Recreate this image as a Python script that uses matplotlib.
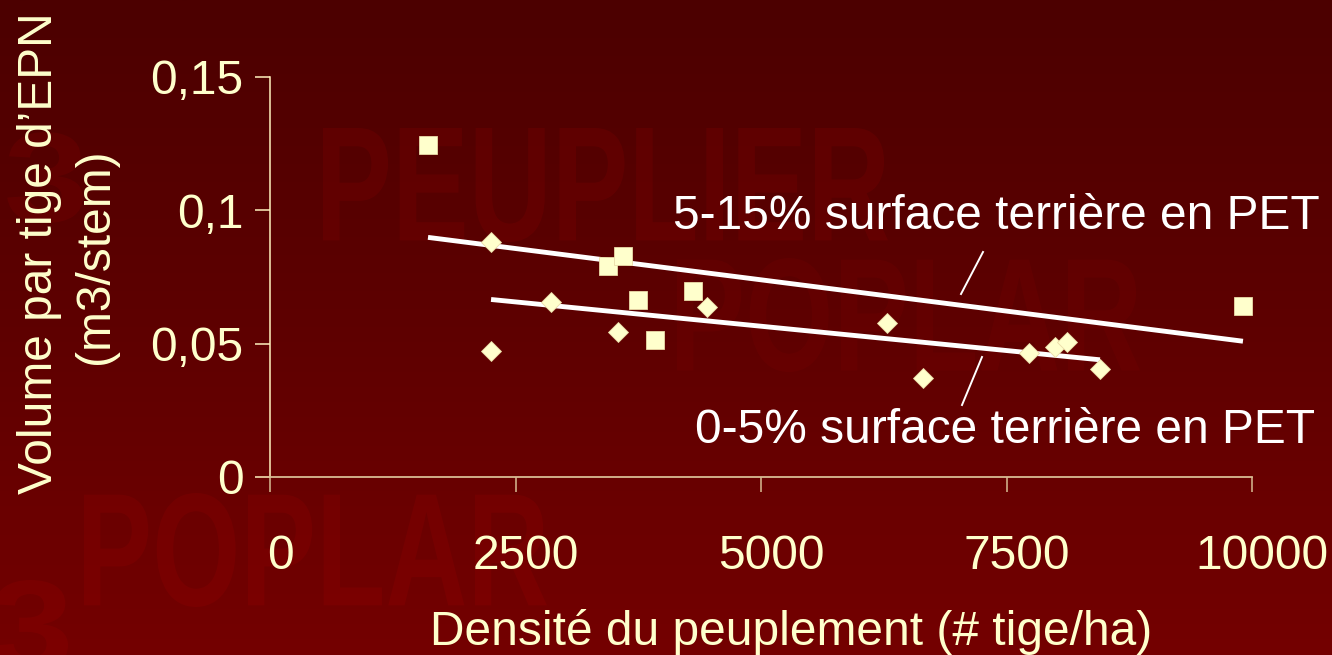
import numpy as np
import matplotlib
matplotlib.use("Agg")
import matplotlib.pyplot as plt
import matplotlib.transforms as mtransforms
from matplotlib.textpath import TextPath
from matplotlib.patches import PathPatch
from matplotlib.lines import Line2D
from matplotlib.font_manager import FontProperties
from matplotlib.colors import LinearSegmentedColormap

plt.rcParams['font.family'] = ['Liberation Sans', 'DejaVu Sans']

# 5-15% surface terriere en PET (squares)
dens_hi = [1609, 3442, 3595, 3747, 3921, 4308, 9908]
vol_hi = [0.1244, 0.0793, 0.0827, 0.0665, 0.0515, 0.0699, 0.0643]

# 0-5% surface terriere en PET (diamonds)
dens_lo = [2251, 2251, 2862, 3544, 4450, 6283, 6650, 7729, 7994, 8116, 8452]
vol_lo = [0.0880, 0.0474, 0.0658, 0.0545, 0.0639, 0.0579, 0.0372,
          0.0466, 0.0489, 0.0508, 0.0406]

lab_hi = "5-15% surface terrière en PET"
lab_lo = "0-5% surface terrière en PET"

xticks = [0, 2500, 5000, 7500, 10000]
yticks = [0, 0.05, 0.1, 0.15]
ytick_labels = ["0", "0,05", "0,1", "0,15"]

xlabel = "Densité du peuplement (# tige/ha)"
ylabel1 = "Volume par tige d\u2019EPN"
ylabel2 = "(m3/stem)"

W, H = 1332, 655
cream = "#FFFFCC"
tan = "#D8BC94"
fs = 34.5

fig = plt.figure(figsize=(W / 100, H / 100), dpi=100)
# pixel coords, origin top-left
pix = mtransforms.Affine2D().scale(1.0 / W, -1.0 / H).translate(0, 1) + fig.transFigure

# background gradient + watermarks
bg = fig.add_axes([0, 0, 1, 1], zorder=-1)
grad = np.linspace(0, 1, 256).reshape(-1, 1)
cmap_bg = LinearSegmentedColormap.from_list("bg", ["#4C0000", "#5E0000", "#740000"])
bg.imshow(grad, cmap=cmap_bg, aspect="auto", extent=(0, W, H, 0))
bg.set_xlim(0, W)
bg.set_ylim(H, 0)
bg.axis("off")

wm_font = FontProperties(family="Liberation Sans", weight="bold")


def watermark(s, x0, y0, w, h, a=0.07):
    tp = TextPath((0, 0), s, size=100, prop=wm_font)
    bb = tp.get_extents()
    tr = mtransforms.Affine2D().translate(-bb.x0, -bb.y1) \
        .scale(w / bb.width, -h / bb.height).translate(x0, y0)
    bg.add_patch(PathPatch(tr.transform_path(tp), fc=(1, 0, 0, a), ec="none"))


watermark("PEUPLIER", 323, 128, 565, 114)
watermark("POPLAR", 677, 258, 463, 114, 0.045)
watermark("POPLAR", 84, 493, 463, 114)
watermark("03", -75, 132, 158, 91)
watermark("03", -90, 580, 158, 91)

# main axes
ax = fig.add_axes([270 / W, 1 - 477 / H, (1252 - 270) / W, (477 - 77) / H])
ax.patch.set_facecolor("none")

ax.plot(dens_hi, vol_hi, "s", ms=12.4, color=cream, mec="#EADBA8", mew=0.6, clip_on=False, zorder=3)
ax.plot(dens_lo, vol_lo, "D", ms=10.6, color=cream, mec="#EADBA8", mew=0.6, clip_on=False, zorder=3)

for xs, ys in [(dens_hi, vol_hi), (dens_lo, vol_lo)]:
    p = np.polyfit(xs, ys, 1)
    xx = np.array([min(xs), max(xs)])
    ax.plot(xx, np.polyval(p, xx), color="white", lw=3.5, solid_capstyle="butt", zorder=2)

ax.set_xlim(0, 10000)
ax.set_ylim(0, 0.15)
ax.set_xticks(xticks)
ax.set_xticklabels([str(v) for v in xticks])
ax.set_yticks(yticks)
ax.set_yticklabels(ytick_labels)

for s in ["top", "right"]:
    ax.spines[s].set_visible(False)
ax.spines["left"].set_color("#FFF2BE")
ax.spines["left"].set_linewidth(1.1)
ax.spines["bottom"].set_color(tan)
ax.spines["bottom"].set_linewidth(1.3)

ax.tick_params(axis="x", direction="out", length=11, width=1.1, color=tan,
               labelsize=fs, labelcolor=cream, pad=30)
ax.tick_params(axis="y", direction="out", length=11, width=1.1, color="#FFF2BE",
               labelsize=fs, labelcolor=cream, pad=8)

shift = mtransforms.ScaledTranslation(10 / 100, 0, fig.dpi_scale_trans)
for lbl in ax.get_xticklabels():
    lbl.set_transform(lbl.get_transform() + shift)

# axis titles
fig.text(52, 253, ylabel1, rotation=90, rotation_mode="anchor", ha="center",
         va="baseline", fontsize=fs, color=cream, transform=pix)
fig.text(108, 256, ylabel2, rotation=90, rotation_mode="anchor", ha="center",
         va="baseline", fontsize=fs, color=cream, transform=pix)
fig.text(430, 645, xlabel, ha="left", va="baseline", fontsize=fs, color=cream, transform=pix)

# series labels with leader lines
fig.text(1320, 229, lab_hi, ha="right", va="baseline", fontsize=fs, color="white", transform=pix)
fig.text(1315, 443, lab_lo, ha="right", va="baseline", fontsize=fs, color="white", transform=pix)
fig.add_artist(Line2D([961, 983], [294, 252], color="white", lw=1.4, transform=pix))
fig.add_artist(Line2D([982, 962], [357, 405], color="white", lw=1.4, transform=pix))

fig.savefig("out.png", dpi=100)
